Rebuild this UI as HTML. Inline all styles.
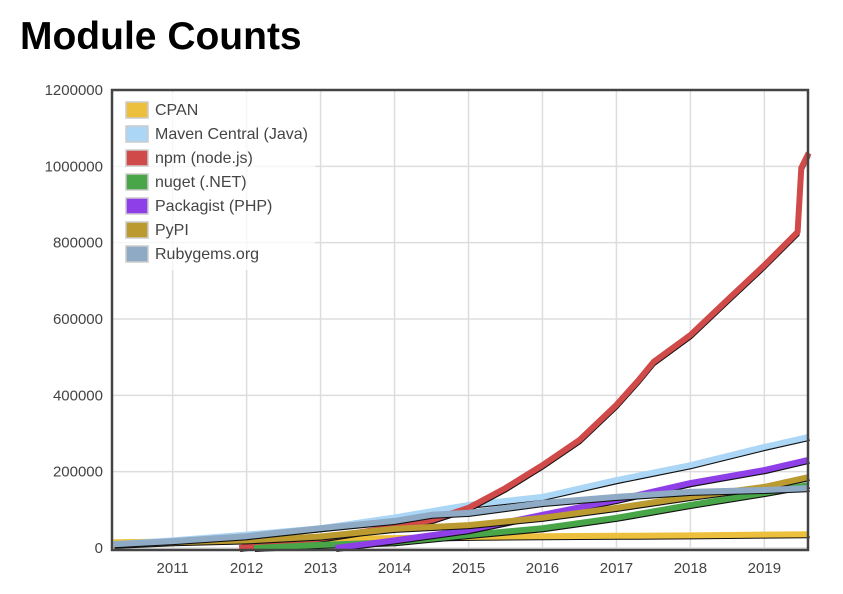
<!DOCTYPE html>
<html><head><meta charset="utf-8"><style>
body{margin:0;background:#fff;font-family:"Liberation Sans",sans-serif;}
h1{position:absolute;left:20px;top:15px;margin:0;font-size:39px;font-weight:bold;color:#000;}
</style></head><body>
<h1>Module Counts</h1>
<svg id="c" width="843" height="594" style="position:absolute;left:0;top:0"></svg>
<script>
const years=[2011,2012,2013,2014,2015,2016,2017,2018,2019];
const yTicks=[0,200000,400000,600000,800000,1000000,1200000];
const names=["CPAN","Maven Central (Java)","npm (node.js)","nuget (.NET)","Packagist (PHP)","PyPI","Rubygems.org"];
const colors=["#ecc03c","#acd6f5","#cf4a48","#48a648","#8f3fe8","#bb9a30","#8eaac4"];
const cpan=[[2010.2,15000],[2011,17000],[2012,20000],[2013,23000],[2014,26000],[2015,29000],[2016,31000],[2017,32000],[2018,33000],[2019,35000],[2019.6,36000]];
const maven=[[2010.2,10000],[2011,20000],[2012,35000],[2013,52000],[2014,80000],[2015,113000],[2016,134000],[2017,178000],[2018,217000],[2019,265000],[2019.6,291000]];
const npm=[[2011.9,0],[2013,25000],[2014,55000],[2014.5,73000],[2015,105000],[2015.5,157000],[2016,217000],[2016.5,283000],[2017,375000],[2017.3,440000],[2017.5,487000],[2018,558000],[2018.5,650000],[2019,741000],[2019.45,828000],[2019.5,996000],[2019.6,1035000]];
const nuget=[[2012.1,0],[2013,8000],[2014,15000],[2015,34000],[2016,52000],[2017,79000],[2018,113000],[2019,144000],[2019.6,165000]];
const packagist=[[2013.2,0],[2014,20000],[2015,47000],[2016,87000],[2017,126000],[2018,170000],[2019,204000],[2019.6,231000]];
const pypi=[[2010.2,8000],[2011,15000],[2012,20000],[2013,30000],[2014,50000],[2015,60000],[2016,79000],[2017,105000],[2018,134000],[2019,160000],[2019.6,186000]];
const rubygems=[[2010.2,10000],[2011,18000],[2012,31000],[2013,52000],[2014,71000],[2014.5,87000],[2015,92000],[2016,118000],[2017,134000],[2018,147000],[2019,152000],[2019.6,157000]];
const series=[cpan,maven,npm,nuget,packagist,pypi,rubygems];
const L=112,R=808,T=90,B=548;
const X0=2010.18,X1=2019.59;
const xs=v=>L+(v-X0)/(X1-X0)*(R-L);
const ys=v=>B-v/1200000*(B-T);
const svg=document.getElementById('c');
const NS="http://www.w3.org/2000/svg";
function mk(t,a){const e=document.createElementNS(NS,t);for(const k in a)e.setAttribute(k,a[k]);svg.appendChild(e);return e;}
yTicks.forEach(v=>{
 const l=mk('line',{x1:L,x2:R,y1:ys(v),y2:ys(v),stroke:'#ddd','stroke-width':1.5});
 
 
 const t=mk('text',{x:103,y:ys(v)+5,'text-anchor':'end','font-size':15,fill:'#444'});
 t.textContent=v;
 
 
});
years.forEach(v=>{
 const l=mk('line',{x1:xs(v),x2:xs(v),y1:T,y2:B,stroke:'#ddd','stroke-width':1.5});
 
 
 const t=mk('text',{x:xs(v),y:573,'text-anchor':'middle','font-size':15,fill:'#444'});
 t.textContent=v;
 
 
});
series.forEach((s,i)=>{
 const d=s.map((p,j)=>(j?'L':'M')+xs(p[0]).toFixed(1)+' '+ys(p[1]).toFixed(1)).join(' ');
 const sh=mk('path',{d:d,fill:'none',stroke:'#111','stroke-width':2,transform:'translate(1,3)'});
 
 
 const p=mk('path',{d:d,fill:'none',stroke:colors[i],'stroke-width':6,'stroke-linejoin':'round'});
 
 
});
const bx=mk('rect',{x:L+1,y:T+2,width:202,height:178,fill:'rgba(255,255,255,0.75)'});


names.forEach((n,i)=>{
 const y=110+i*24;
 const r=mk('rect',{x:126,y:y-8,width:22,height:16,fill:colors[i],stroke:'#ccc','stroke-width':1.5});
 
 
 const t=mk('text',{x:155,y:y+5,'font-size':16,fill:'#444'});
 t.textContent=n;
 
 
});
const fr=mk('rect',{x:L,y:T,width:R-L,height:B-T+2,fill:'none',stroke:'#444','stroke-width':2.5});


</script>
</body></html>
